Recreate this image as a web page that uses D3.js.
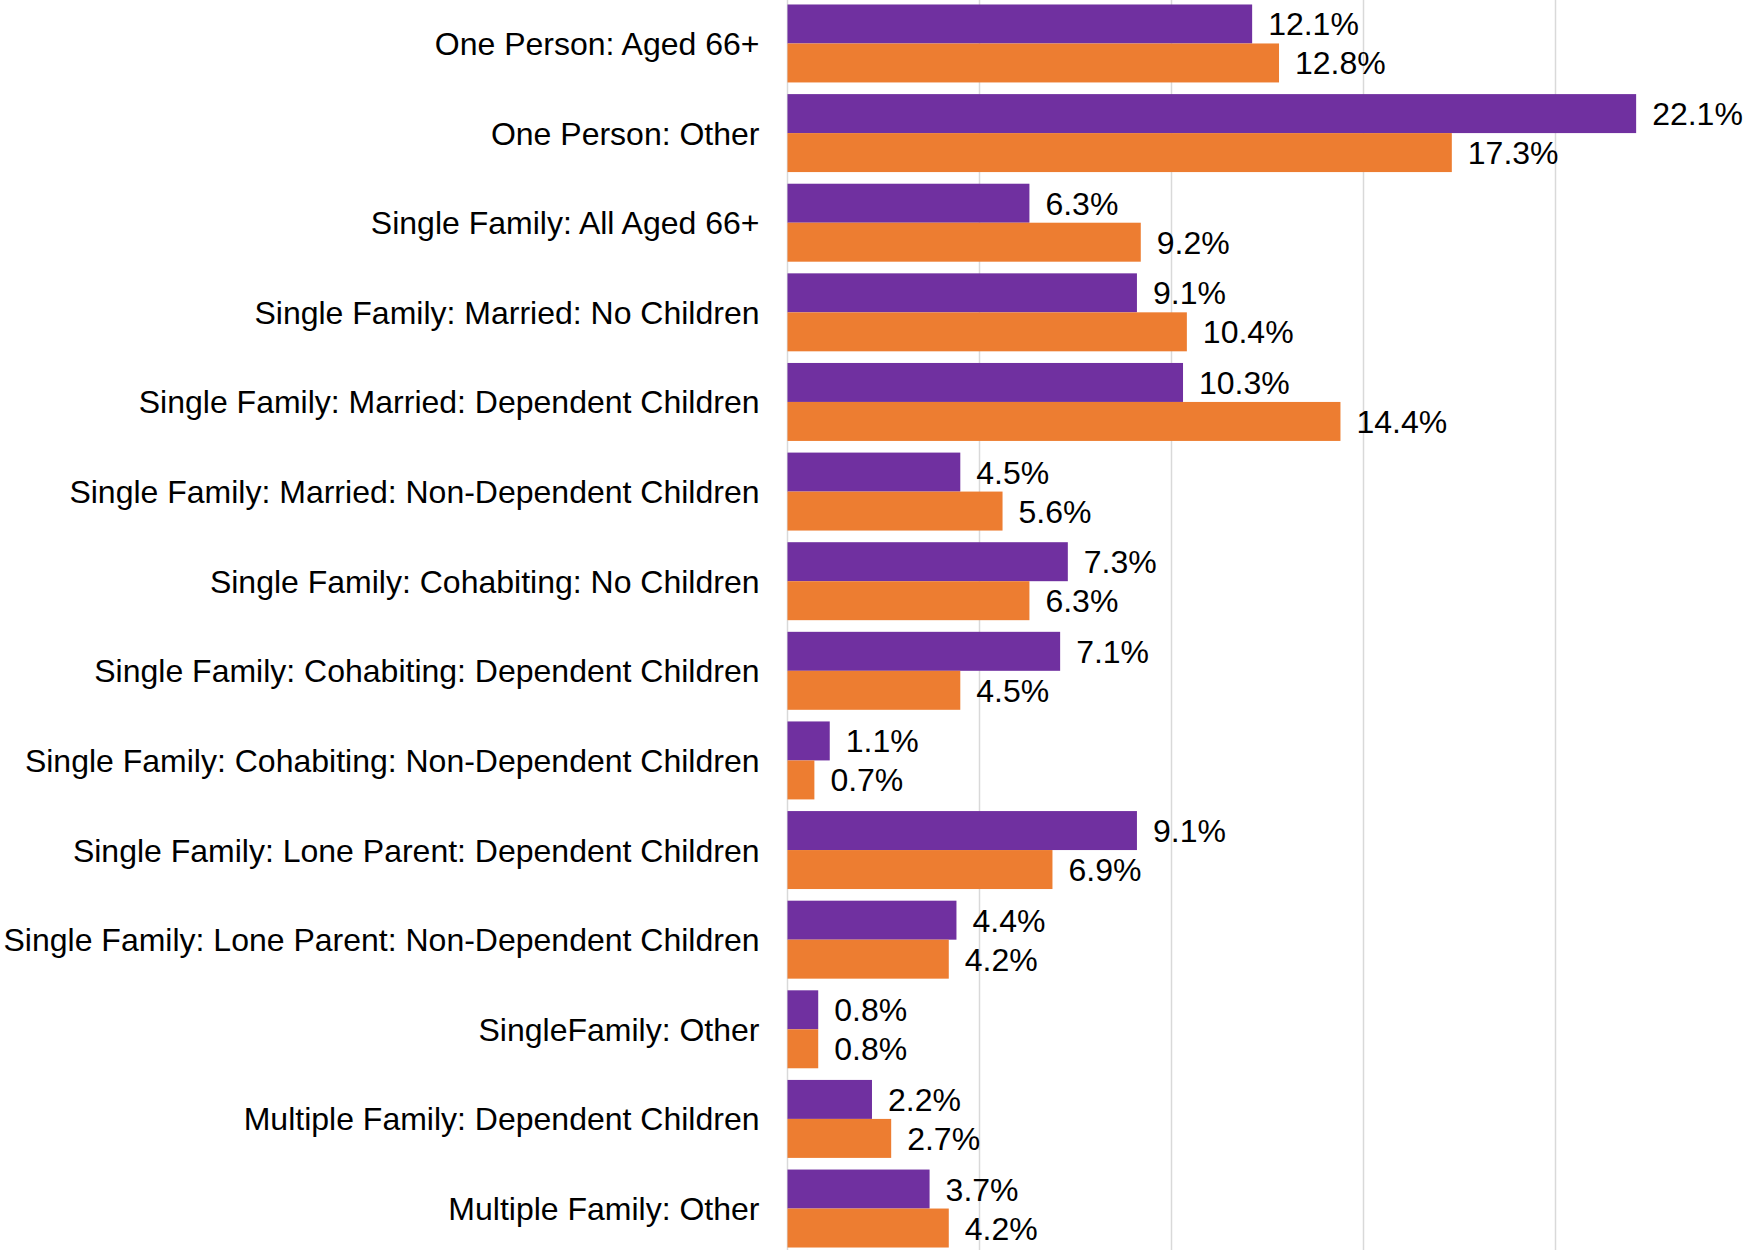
<!DOCTYPE html>
<html lang="en">
<head>
  <meta charset="UTF-8">
  <title>Household Composition</title>
  <script src="https://d3js.org/d3.v7.min.js"></script>
  <style>
    body, html {
      margin: 0;
      padding: 0;
      background: #fff;
    }
    svg text {
      font-family: "Liberation Sans", Arial, sans-serif;
      font-size: 32px;
      fill: #000;
    }
  </style>
</head>
<body>
  <svg id="svg" width="1747" height="1250"></svg>
  <script>
    const categories = [
      "One Person: Aged 66+",
      "One Person: Other",
      "Single Family: All Aged 66+",
      "Single Family: Married: No Children",
      "Single Family: Married: Dependent Children",
      "Single Family: Married: Non-Dependent Children",
      "Single Family: Cohabiting: No Children",
      "Single Family: Cohabiting: Dependent Children",
      "Single Family: Cohabiting: Non-Dependent Children",
      "Single Family: Lone Parent: Dependent Children",
      "Single Family: Lone Parent: Non-Dependent Children",
      "SingleFamily: Other",
      "Multiple Family: Dependent Children",
      "Multiple Family: Other"
    ]
    const seriesA = [12.1, 22.1, 6.3, 9.1, 10.3, 4.5, 7.3, 7.1, 1.1, 9.1, 4.4, 0.8, 2.2, 3.7]
    const seriesB = [12.8, 17.3, 9.2, 10.4, 14.4, 5.6, 6.3, 4.5, 0.7, 6.9, 4.2, 0.8, 2.7, 4.2]
    const seriesKeys = ["a", "b"]
    const seriesColors = ["#7030A0", "#ED7D31"]
    const gridTicks = [0, 5, 10, 15, 20]

    function drawChart() {
      const svg = d3.select("svg")
      const height = 1250
      const left = 787.5

      const x = d3.scaleLinear().domain([0, 25]).range([left, left + 960])
      const y = d3.scaleBand()
        .domain(categories)
        .range([0, 1252])
        .paddingInner(0.13)
        .paddingOuter(0.05)
      const ySub = d3.scaleBand()
        .domain(seriesKeys)
        .range([0, y.bandwidth()])

      const rows = categories.map((c, i) => ({ cat: c, a: seriesA[i], b: seriesB[i] }))

      // gridlines
      svg.append("g")
        .selectAll("line")
        .data(gridTicks)
        .enter()
        .append("line")
        .attr("x1", d => x(d))
        .attr("x2", d => x(d))
        .attr("y1", 0)
        .attr("y2", height)
        .attr("stroke", "#d9d9d9")
        .attr("stroke-width", 1.5)

      const groups = svg.append("g")
        .selectAll("g")
        .data(rows)
        .enter()
        .append("g")
        .attr("transform", d => `translate(0,${y(d.cat)})`)

      const cells = groups.selectAll("g")
        .data(d => seriesKeys.map((k, i) => ({ key: k, value: d[k], color: seriesColors[i] })))
        .enter()
        .append("g")

      cells.append("rect")
        .attr("x", x(0))
        .attr("y", d => ySub(d.key))
        .attr("width", d => x(d.value) - x(0))
        .attr("height", ySub.bandwidth())
        .attr("fill", d => d.color)

      cells.append("text")
        .attr("x", d => x(d.value) + 16)
        .attr("y", d => ySub(d.key) + ySub.bandwidth() / 2)
        .attr("dy", "0.36em")
        .text(d => d.value.toFixed(1) + "%")

      // category labels
      svg.append("g")
        .selectAll("text")
        .data(categories)
        .enter()
        .append("text")
        .attr("x", left - 28)
        .attr("y", d => y(d) + y.bandwidth() / 2)
        .attr("dy", "0.36em")
        .attr("text-anchor", "end")
        .text(d => d)
    }

    drawChart()
  </script>
</body>
</html>
